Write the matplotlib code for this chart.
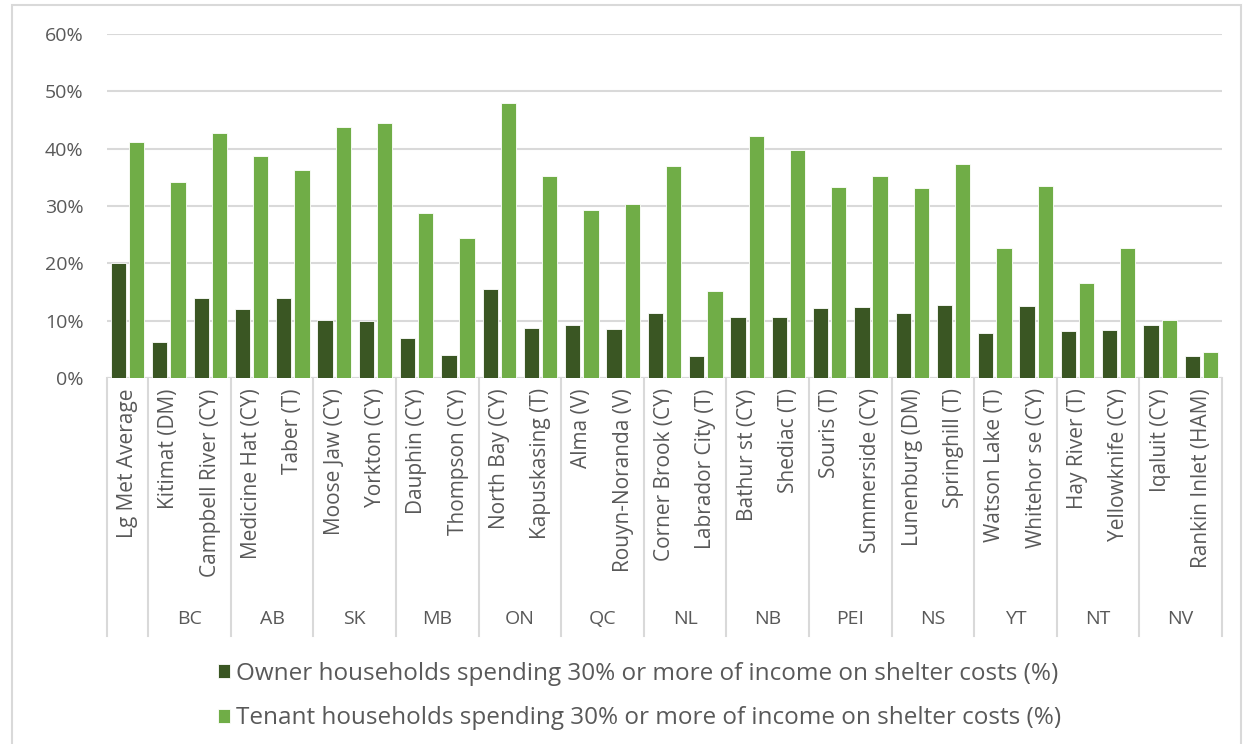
import matplotlib.pyplot as plt
import matplotlib.patches as mpatches
from matplotlib.ticker import PercentFormatter
import numpy as np

plt.rcParams['font.family'] = ['Open Sans', 'DejaVu Sans']

# communities (bottom row) and their province (second row)
cities = ["Lg Met Average", "Kitimat (DM)", "Campbell River (CY)", "Medicine Hat (CY)",
          "Taber (T)", "Moose Jaw (CY)", "Yorkton (CY)", "Dauphin (CY)", "Thompson (CY)",
          "North Bay (CY)", "Kapuskasing (T)", "Alma (V)", "Rouyn-Noranda (V)",
          "Corner Brook (CY)", "Labrador City (T)", "Bathur st (CY)", "Shediac (T)",
          "Souris (T)", "Summerside (CY)", "Lunenburg (DM)", "Springhill (T)",
          "Watson Lake (T)", "Whitehor se (CY)", "Hay River (T)", "Yellowknife (CY)",
          "Iqaluit (CY)", "Rankin Inlet (HAM)"]
provinces = ["BC", "AB", "SK", "MB", "ON", "QC", "NL", "NB", "PEI", "NS", "YT", "NT", "NV"]

owner = [20.1, 6.3, 13.9, 12.1, 13.9, 10.1, 9.9, 6.9, 4.0, 15.5, 8.8, 9.3, 8.6,
         11.3, 3.9, 10.6, 10.6, 12.2, 12.4, 11.3, 12.8, 7.9, 12.6, 8.2, 8.4, 9.3, 3.9]
tenant = [41.1, 34.1, 42.7, 38.8, 36.2, 43.8, 44.4, 28.8, 24.4, 48.0, 35.3, 29.3, 30.4,
          37.0, 15.2, 42.2, 39.8, 33.3, 35.3, 33.1, 37.3, 22.6, 33.5, 16.6, 22.6, 10.2, 4.6]

dark = "#3a5623"
light = "#70ad47"
grey = "#595959"

fig = plt.figure(figsize=(12.49, 7.44), dpi=100)
ax = fig.add_axes([107/1249, 1-378/744, 1115/1249, 344/744])

x = np.arange(len(cities))
w = 0.37
ax.bar(x - 0.22, owner, w, color=dark, edgecolor="white", linewidth=0.6, zorder=3,
       label="Owner households spending 30% or more of income on shelter costs (%)")
ax.bar(x + 0.22, tenant, w, color=light, edgecolor="white", linewidth=0.6, zorder=3,
       label="Tenant households spending 30% or more of income on shelter costs (%)")

ax.set_xlim(-0.5, len(cities) - 0.5)
ax.set_ylim(0, 60)
ax.set_yticks(range(0, 61, 10))
ax.yaxis.set_major_formatter(PercentFormatter(decimals=0))
ax.tick_params(axis='y', length=0, pad=17, labelsize=14, labelcolor=grey)
ax.grid(axis='y', color="#d9d9d9", linewidth=1.5, zorder=0)
for s in ax.spines.values():
    s.set_visible(False)
ax.axhline(0, color="#d9d9d9", linewidth=1.5, zorder=2)

# two-level category axis
ax.set_xticks([])
tr = ax.get_xaxis_transform()
for i, c in enumerate(cities):
    ax.text(i, -0.03, c, transform=tr, rotation=90, ha='center', va='top',
            fontsize=15, color=grey)
bounds = [-0.5, 0.5] + [0.5 + 2 * k for k in range(1, len(provinces) + 1)]
for b in bounds:
    ax.plot([b, b], [0, -0.75], transform=tr, color="#d9d9d9", linewidth=1.5,
            clip_on=False)
for k, p in enumerate(provinces):
    ax.text(1.5 + 2 * k, -0.70, p, transform=tr, ha='center', va='center',
            fontsize=14, color=grey)

fig.legend(loc='upper center', bbox_to_anchor=(0.512, 0.14), ncol=1, frameon=False,
           fontsize=17.5, labelcolor=grey, handlelength=0.5, handleheight=0.5,
           handletextpad=0.25, labelspacing=0.85)

# outer chart frame
fig.patches.append(mpatches.Rectangle((12/1249, -0.1), 1229/1249, 1.1 - 5/744,
                                      transform=fig.transFigure, fill=False,
                                      edgecolor="#d9d9d9", linewidth=1.5))

fig.savefig("out.png", dpi=100)
